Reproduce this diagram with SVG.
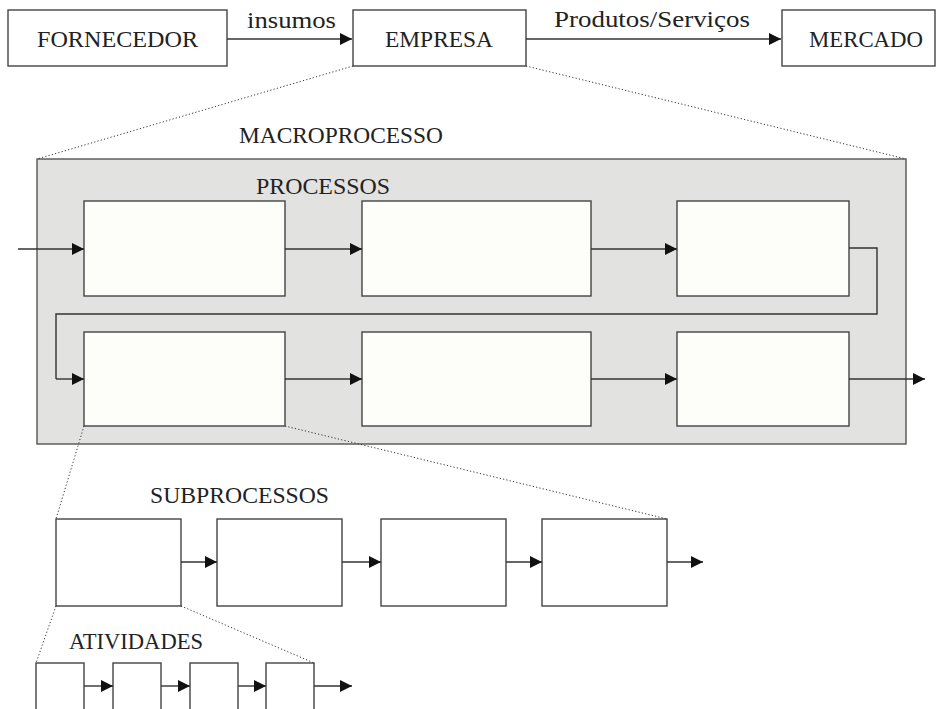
<svg xmlns="http://www.w3.org/2000/svg" width="943" height="709" viewBox="0 0 943 709">
  <style>
    .lbl { font-family: "Liberation Serif", "Times New Roman", serif; font-size: 23px; fill: #222; }
    .box { fill: #ffffff; stroke: #444; stroke-width: 1.4; }
    .pbox { fill: #fdfdfa; stroke: #444; stroke-width: 1.4; }
    .frame { fill: #e2e2e0; stroke: #555; stroke-width: 1.4; }
    .flow { fill: none; stroke: #333; stroke-width: 1.4; marker-end: url(#head); }
    .line { fill: none; stroke: #333; stroke-width: 1.4; }
    .zoom { fill: none; stroke: #333; stroke-width: 1; stroke-dasharray: 1.2 2.2; }
  </style>
  <defs>
    <marker id="head" markerUnits="userSpaceOnUse" markerWidth="13" markerHeight="13" refX="12" refY="6.5" orient="auto">
      <path d="M0,0.5 L12,6.5 L0,12.5 Z" fill="#111"/>
    </marker>
  </defs>

  <rect width="943" height="709" fill="#ffffff"/>

  <!-- value chain -->
  <g id="fornecedor">
    <rect class="box" x="8" y="10" width="219" height="56"/>
    <text class="lbl" x="37" y="47" textLength="161" lengthAdjust="spacingAndGlyphs">FORNECEDOR</text>
  </g>
  <g id="empresa">
    <rect class="box" x="353" y="10" width="173" height="56"/>
    <text class="lbl" x="385" y="47" textLength="108" lengthAdjust="spacingAndGlyphs">EMPRESA</text>
  </g>
  <g id="mercado">
    <rect class="box" x="782" y="10" width="153" height="56"/>
    <text class="lbl" x="809" y="47" textLength="114" lengthAdjust="spacingAndGlyphs">MERCADO</text>
  </g>

  <!-- macroprocess frame -->
  <g id="macroprocesso">
    <text class="lbl" x="239" y="143" textLength="204" lengthAdjust="spacingAndGlyphs">MACROPROCESSO</text>
    <rect class="frame" x="37" y="159" width="869" height="285"/>
    <text class="lbl" x="256" y="194" textLength="134" lengthAdjust="spacingAndGlyphs">PROCESSOS</text>
  </g>

  <g id="processo-1"><rect class="pbox" x="84" y="201" width="201" height="95"/></g>
  <g id="processo-2"><rect class="pbox" x="362" y="201" width="229" height="95"/></g>
  <g id="processo-3"><rect class="pbox" x="677" y="201" width="172" height="95"/></g>
  <g id="processo-4"><rect class="pbox" x="84" y="332" width="201" height="94"/></g>
  <g id="processo-5"><rect class="pbox" x="362" y="332" width="229" height="94"/></g>
  <g id="processo-6"><rect class="pbox" x="677" y="332" width="172" height="94"/></g>

  <!-- subprocesses -->
  <g id="subprocessos-titulo">
    <text class="lbl" x="150" y="503" textLength="179" lengthAdjust="spacingAndGlyphs">SUBPROCESSOS</text>
  </g>
  <g id="subprocesso-1"><rect class="box" x="56" y="519" width="125" height="87"/></g>
  <g id="subprocesso-2"><rect class="box" x="217" y="519" width="125" height="87"/></g>
  <g id="subprocesso-3"><rect class="box" x="381" y="519" width="125" height="87"/></g>
  <g id="subprocesso-4"><rect class="box" x="542" y="519" width="125" height="87"/></g>

  <!-- activities -->
  <g id="atividades-titulo">
    <text class="lbl" x="69" y="649" textLength="134" lengthAdjust="spacingAndGlyphs">ATIVIDADES</text>
  </g>
  <g id="atividade-1"><rect class="box" x="36" y="663" width="48" height="60"/></g>
  <g id="atividade-2"><rect class="box" x="113" y="663" width="48" height="60"/></g>
  <g id="atividade-3"><rect class="box" x="190" y="663" width="48" height="60"/></g>
  <g id="atividade-4"><rect class="box" x="266" y="663" width="48" height="60"/></g>

  <!-- connectors -->
  <g id="connectors">
    <path class="flow" d="M227,39 H352"/>
    <text class="lbl" x="247" y="28" textLength="89" lengthAdjust="spacingAndGlyphs">insumos</text>
    <path class="flow" d="M526,39 H781"/>
    <text class="lbl" x="554" y="27" textLength="196" lengthAdjust="spacingAndGlyphs">Produtos/Serviços</text>

    <path class="flow" d="M18,249 H84"/>
    <path class="flow" d="M285,249 H362"/>
    <path class="flow" d="M591,249 H677"/>
    <path class="line" d="M849,248 H877 V314 H56 V379"/>
    <path class="flow" d="M56,379 H84"/>
    <path class="flow" d="M285,379 H362"/>
    <path class="flow" d="M591,379 H677"/>
    <path class="flow" d="M849,379 H925"/>

    <path class="flow" d="M181,562 H217"/>
    <path class="flow" d="M342,562 H381"/>
    <path class="flow" d="M506,562 H542"/>
    <path class="flow" d="M667,562 H703"/>

    <path class="flow" d="M84,686 H113"/>
    <path class="flow" d="M161,686 H190"/>
    <path class="flow" d="M238,686 H266"/>
    <path class="flow" d="M314,686 H352"/>

    <!-- zoom-in guides -->
    <path class="zoom" d="M353,66 L37,159"/>
    <path class="zoom" d="M526,66 L906,159"/>
    <path class="zoom" d="M84,426 L56,519"/>
    <path class="zoom" d="M285,426 L667,519"/>
    <path class="zoom" d="M56,606 L36,663"/>
    <path class="zoom" d="M181,606 L314,663"/>
  </g>
</svg>
